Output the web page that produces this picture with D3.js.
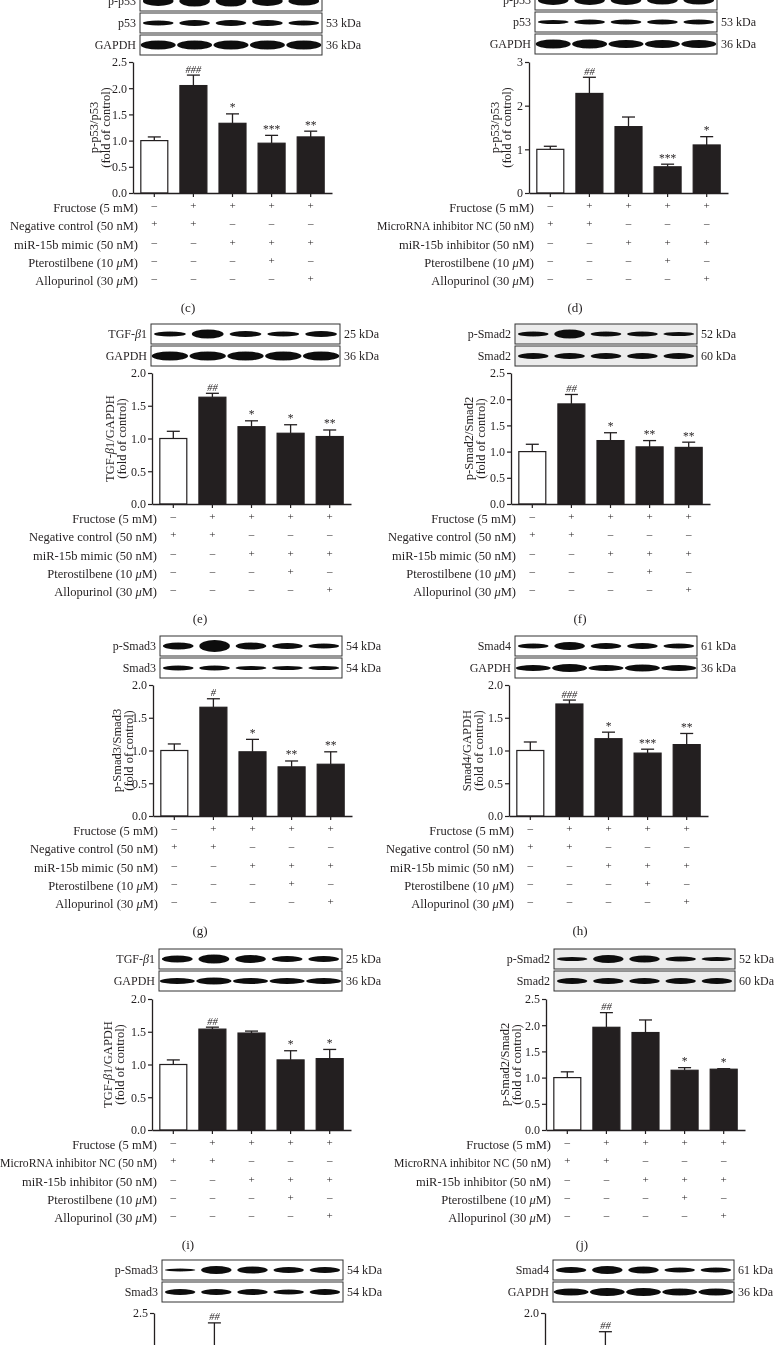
<!DOCTYPE html>
<html><head><meta charset="utf-8">
<script src="https://cdn.jsdelivr.net/npm/d3@7"></script>
<style>
body{margin:0;background:#fff;}
svg{display:block;font-family:"Liberation Serif","Times New Roman",serif;will-change:transform;}
</style></head><body>
<svg id="fig" width="774" height="1345"></svg>
<script>
// ---------- DATA ----------
const groups = ["G1","G2","G3","G4","G5"];

const treatMimic = ["Fructose (5 mM)","Negative control (50 nM)","miR-15b mimic (50 nM)","Pterostilbene (10 μM)","Allopurinol (30 μM)"];
const treatInhib = ["Fructose (5 mM)","MicroRNA inhibitor NC (50 nM)","miR-15b inhibitor (50 nM)","Pterostilbene (10 μM)","Allopurinol (30 μM)"];
const treatSigns = [
  ["–","+","+","+","+"],
  ["+","+","–","–","–"],
  ["–","–","+","+","+"],
  ["–","–","–","+","–"],
  ["–","–","–","–","+"]
];

const ticks25 = [0,0.5,1,1.5,2,2.5];
const tickLabels25 = ["0.0","0.5","1.0","1.5","2.0","2.5"];
const ticks20 = [0,0.5,1,1.5,2];
const tickLabels20 = ["0.0","0.5","1.0","1.5","2.0"];
const ticks3 = [0,1,2,3];
const tickLabels3 = ["0","1","2","3"];

// (c)
const valuesC = [1.00,2.05,1.33,0.95,1.07];
const errC    = [1.07,2.25,1.51,1.10,1.18];
const sigC    = ["","###","*","***","**"];
// (d)
const valuesD = [1.00,2.28,1.52,0.60,1.10];
const errD    = [1.07,2.65,1.74,0.66,1.29];
const sigD    = ["","##","","***","*"];
// (e)
const valuesE = [1.00,1.63,1.18,1.08,1.03];
const errE    = [1.11,1.69,1.27,1.21,1.13];
const sigE    = ["","##","*","*","**"];
// (f)
const valuesF = [1.00,1.91,1.21,1.09,1.08];
const errF    = [1.14,2.09,1.36,1.21,1.18];
const sigF    = ["","##","*","**","**"];
// (g)
const valuesG = [1.00,1.66,0.98,0.75,0.79];
const errG    = [1.10,1.79,1.17,0.84,0.98];
const sigG    = ["","#","*","**","**"];
// (h)
const valuesH = [1.00,1.71,1.18,0.96,1.09];
const errH    = [1.13,1.77,1.28,1.02,1.26];
const sigH    = ["","###","*","***","**"];
// (i)
const valuesI = [1.00,1.54,1.48,1.07,1.09];
const errI    = [1.07,1.57,1.51,1.21,1.23];
const sigI    = ["","##","","*","*"];
// (j)
const valuesJ = [1.00,1.96,1.86,1.14,1.16];
const errJ    = [1.11,2.24,2.10,1.19,1.17];
const sigJ    = ["","##","","*","*"];
// (k) only the top is visible
const valuesK = [1.00,1.90,1.60,1.20,1.20];
const errK    = [1.10,2.37,1.80,1.35,1.35];
const sigK    = ["","##","","",""];
// (l) only the top is visible
const valuesL = [1.00,1.55,1.25,1.05,1.10];
const errL    = [1.10,1.78,1.35,1.15,1.20];
const sigL    = ["","##","","",""];

// western blot rows: band thickness per lane
const blotC = [{name:"p-p53",kda:"",bands:[10,11,11,10,9]},{name:"p53",kda:"53 kDa",bands:[5,6,6,6,5]},{name:"GAPDH",kda:"36 kDa",bands:[9,9,9,9,9]}];
const blotD = [{name:"p-p53",kda:"",bands:[10,10,10,9,9]},{name:"p53",kda:"53 kDa",bands:[4,5,5,5,5]},{name:"GAPDH",kda:"36 kDa",bands:[9,9,8,8,8]}];
const blotE = [{name:"TGF-β1",kda:"25 kDa",bands:[5,9,6,5,6]},{name:"GAPDH",kda:"36 kDa",bands:[9,9,9,9,9]}];
const blotF = [{name:"p-Smad2",kda:"52 kDa",bands:[5,9,5,5,4]},{name:"Smad2",kda:"60 kDa",bands:[6,6,6,6,6]}];
const blotG = [{name:"p-Smad3",kda:"54 kDa",bands:[7,12,7,6,5]},{name:"Smad3",kda:"54 kDa",bands:[5,5,4,4,4]}];
const blotH = [{name:"Smad4",kda:"61 kDa",bands:[5,8,6,6,5]},{name:"GAPDH",kda:"36 kDa",bands:[6,8,6,7,6]}];
const blotI = [{name:"TGF-β1",kda:"25 kDa",bands:[7,9,8,6,6]},{name:"GAPDH",kda:"36 kDa",bands:[6,7,6,6,6]}];
const blotJ = [{name:"p-Smad2",kda:"52 kDa",bands:[4,8,7,5,4]},{name:"Smad2",kda:"60 kDa",bands:[6,6,6,6,6]}];
const blotK = [{name:"p-Smad3",kda:"54 kDa",bands:[3,8,7,6,6]},{name:"Smad3",kda:"54 kDa",bands:[6,6,6,5,6]}];
const blotL = [{name:"Smad4",kda:"61 kDa",bands:[6,8,7,5,5]},{name:"GAPDH",kda:"36 kDa",bands:[7,8,8,7,7]}];

const panels = [
  {id:"(c)",values:valuesC,err:errC,sig:sigC,ticks:ticks25,tickLabels:tickLabels25,ymax:2.5,ylabel:["p-p53/p53","(fold of control)"],treat:treatMimic,blot:blotC},
  {id:"(d)",values:valuesD,err:errD,sig:sigD,ticks:ticks3,tickLabels:tickLabels3,ymax:3,ylabel:["p-p53/p53","(fold of control)"],treat:treatInhib,blot:blotD},
  {id:"(e)",values:valuesE,err:errE,sig:sigE,ticks:ticks20,tickLabels:tickLabels20,ymax:2,ylabel:["TGF-β1/GAPDH","(fold of control)"],treat:treatMimic,blot:blotE},
  {id:"(f)",values:valuesF,err:errF,sig:sigF,ticks:ticks25,tickLabels:tickLabels25,ymax:2.5,ylabel:["p-Smad2/Smad2","(fold of control)"],treat:treatMimic,blot:blotF},
  {id:"(g)",values:valuesG,err:errG,sig:sigG,ticks:ticks20,tickLabels:tickLabels20,ymax:2,ylabel:["p-Smad3/Smad3","(fold of control)"],treat:treatMimic,blot:blotG},
  {id:"(h)",values:valuesH,err:errH,sig:sigH,ticks:ticks20,tickLabels:tickLabels20,ymax:2,ylabel:["Smad4/GAPDH","(fold of control)"],treat:treatMimic,blot:blotH},
  {id:"(i)",values:valuesI,err:errI,sig:sigI,ticks:ticks20,tickLabels:tickLabels20,ymax:2,ylabel:["TGF-β1/GAPDH","(fold of control)"],treat:treatInhib,blot:blotI},
  {id:"(j)",values:valuesJ,err:errJ,sig:sigJ,ticks:ticks25,tickLabels:tickLabels25,ymax:2.5,ylabel:["p-Smad2/Smad2","(fold of control)"],treat:treatInhib,blot:blotJ},
  {id:"(k)",values:valuesK,err:errK,sig:sigK,ticks:ticks25,tickLabels:tickLabels25,ymax:2.5,ylabel:null,treat:null,blot:blotK},
  {id:"(l)",values:valuesL,err:errL,sig:sigL,ticks:ticks20,tickLabels:tickLabels20,ymax:2,ylabel:null,treat:null,blot:blotL}
];

// ---------- LAYOUT (positions / styles) ----------
const layout = {
  "(c)":{axisX:133,top:62,ph:131,bx0:140,bx1:322,gap:7,yl:[-39,-27],lx:188,bg:"#fff"},
  "(d)":{axisX:529,top:62,ph:131,bx0:535,bx1:717,gap:8,yl:[-34,-22],lx:575,bg:"#fff"},
  "(e)":{axisX:152,top:373,ph:131,bx0:151,bx1:340,gap:7,yl:[-42,-30],lx:200,bg:"#fff"},
  "(f)":{axisX:511,top:373,ph:131,bx0:515,bx1:697,gap:7,yl:[-42,-30],lx:580,bg:"#ececec"},
  "(g)":{axisX:153,top:685,ph:131,bx0:160,bx1:342,gap:7,yl:[-36,-24],lx:200,bg:"#fff"},
  "(h)":{axisX:509,top:685,ph:131,bx0:515,bx1:697,gap:7,yl:[-42,-30],lx:580,bg:"#fff"},
  "(i)":{axisX:152,top:999,ph:131,bx0:159,bx1:342,gap:8,yl:[-44,-32],lx:188,bg:"#fff"},
  "(j)":{axisX:546,top:999,ph:131,bx0:554,bx1:735,gap:8,yl:[-41,-29],lx:582,bg:"#ececec"},
  "(k)":{axisX:154,top:1313,ph:190,bx0:162,bx1:343,gap:11,yl:null,lx:null,bg:"#fff"},
  "(l)":{axisX:545,top:1313,ph:170,bx0:553,bx1:734,gap:11,yl:null,lx:null,bg:"#fff"}
};
const AXIS_LEN = 199, ROW_H = 20, ROW_GAP = 2, INK = "#231f20";
const FS_LABEL = 12.5, FS_BLOT = 12, FS_KDA = 12, FS_TICK = 12, FS_YLAB = 12.5, FS_SIGN = 11, FS_SIG = 10.5, FS_PANEL = 13;
const MAX_TREAT_W = 157;

// ---------- DRAW ----------
const svg = d3.select("#fig");
const defs = svg.append("defs");
defs.append("filter").attr("id","soft").attr("x","-20%").attr("y","-60%").attr("width","140%").attr("height","220%")
  .append("feGaussianBlur").attr("stdDeviation",0.7);

function rich(sel, str){
  str.split(/([μβ])/).forEach(part=>{
    if(!part) return;
    const t = sel.append("tspan").text(part);
    if(part==="μ"||part==="β") t.attr("font-style","italic");
  });
}

panels.forEach(p=>{
  const L = layout[p.id];
  const g = svg.append("g");
  const top = L.top, y0 = L.top + L.ph;
  const y = d3.scaleLinear().domain([0,p.ymax]).range([y0, top]);
  const x = d3.scaleBand().domain(groups).range([L.axisX, L.axisX+AXIS_LEN]).paddingInner(0.31).paddingOuter(0.2);

  // blots
  const nRows = p.blot.length;
  const lane = (L.bx1-L.bx0)/5;
  p.blot.forEach((row,ri)=>{
    const rb = top - L.gap - (nRows-1-ri)*(ROW_H+ROW_GAP);
    const rt = rb - ROW_H;
    const bg = g.append("g");
    bg.append("rect").attr("x",L.bx0).attr("y",rt).attr("width",L.bx1-L.bx0).attr("height",ROW_H)
      .attr("fill",L.bg).attr("stroke","#333").attr("stroke-width",1);
    const wide = row.name==="GAPDH" ? 0.48 : 0.42;
    bg.selectAll("ellipse").data(row.bands).join("ellipse")
      .attr("cx",(d,i)=>L.bx0+(i+0.5)*lane)
      .attr("cy",rt+ROW_H/2)
      .attr("rx",lane*wide)
      .attr("ry",d=>d/2)
      .attr("fill","#111")
      .attr("filter","url(#soft)");
    g.append("text").attr("x",L.bx0-4).attr("y",rt+ROW_H/2).attr("text-anchor","end")
      .attr("dominant-baseline","central").attr("font-size",FS_BLOT).attr("fill",INK)
      .call(t=>rich(t,row.name));
    if(row.kda) g.append("text").attr("x",L.bx1+4).attr("y",rt+ROW_H/2).attr("dominant-baseline","central")
      .attr("font-size",FS_KDA).attr("fill",INK).text(row.kda);
  });

  // bars
  g.selectAll("rect.bar").data(p.values).join("rect").attr("class","bar")
    .attr("x",(d,i)=>x(groups[i])).attr("width",x.bandwidth())
    .attr("y",d=>y(d)).attr("height",d=>y0-y(d))
    .attr("fill",(d,i)=>i===0?"#fff":INK).attr("stroke",INK).attr("stroke-width",1.2);

  // error bars
  const cx = i=>x(groups[i])+x.bandwidth()/2;
  g.selectAll("line.eb").data(p.err).join("line").attr("class","eb")
    .attr("x1",(d,i)=>cx(i)).attr("x2",(d,i)=>cx(i))
    .attr("y1",(d,i)=>y(p.values[i])).attr("y2",d=>y(d))
    .attr("stroke",INK).attr("stroke-width",1.3);
  g.selectAll("line.cap").data(p.err).join("line").attr("class","cap")
    .attr("x1",(d,i)=>cx(i)-6.5).attr("x2",(d,i)=>cx(i)+6.5)
    .attr("y1",d=>y(d)).attr("y2",d=>y(d))
    .attr("stroke",INK).attr("stroke-width",1.3);
  g.selectAll("text.sig").data(p.sig).join("text").attr("class","sig")
    .attr("x",(d,i)=>cx(i)).attr("y",(d,i)=>y(p.err[i])-2.5)
    .attr("text-anchor","middle").attr("font-size",d=>d.includes("#")?FS_SIG:FS_SIG+1)
    .attr("font-style",d=>d.includes("#")?"italic":"normal")
    .attr("fill",INK).text(d=>d);

  // axes
  const ya = g.append("g").attr("transform",`translate(${L.axisX},0)`)
    .call(d3.axisLeft(y).tickValues(p.ticks).tickFormat((d,i)=>p.tickLabels[i]).tickSize(4).tickSizeOuter(0));
  const xa = g.append("g").attr("transform",`translate(0,${y0})`)
    .call(d3.axisBottom(x).tickSize(4).tickSizeOuter(0).tickFormat(""));
  [ya,xa].forEach(a=>{
    a.select(".domain").attr("stroke",INK).attr("stroke-width",1.3);
    a.selectAll(".tick line").attr("stroke",INK).attr("stroke-width",1.2);
    a.selectAll("text").attr("font-family","Liberation Serif, serif").attr("font-size",FS_TICK).attr("fill",INK);
  });
  ya.selectAll(".tick text").attr("x",-6);

  // y label
  if(p.ylabel){
    p.ylabel.forEach((s,k)=>{
      g.append("text").attr("transform",`translate(${L.axisX+L.yl[k]},${top+L.ph/2}) rotate(-90)`)
        .attr("text-anchor","middle").attr("dominant-baseline","central").attr("font-size",FS_YLAB).attr("fill",INK)
        .call(t=>rich(t,s));
    });
  }

  // treatment table
  if(p.treat){
    p.treat.forEach((lab,r)=>{
      const ry = y0+15+r*18.3;
      const t = g.append("text").attr("x",L.axisX+5).attr("y",ry).attr("text-anchor","end")
        .attr("dominant-baseline","central").attr("font-size",FS_LABEL).attr("fill",INK).call(t=>rich(t,lab));
      const w = t.node().getComputedTextLength();
      if(w > MAX_TREAT_W) t.attr("textLength",MAX_TREAT_W).attr("lengthAdjust","spacingAndGlyphs");
      g.selectAll(null).data(treatSigns[r]).join("text")
        .attr("x",(d,i)=>cx(i)).attr("y",ry-3).attr("text-anchor","middle")
        .attr("dominant-baseline","central").attr("font-size",FS_SIGN).attr("fill",INK).text(d=>d);
    });
  }
  if(L.lx!==null){
    g.append("text").attr("x",L.lx).attr("y",y0+114).attr("text-anchor","middle")
      .attr("dominant-baseline","central").attr("font-size",FS_PANEL).attr("fill",INK).text(p.id);
  }
});
</script></body></html>
